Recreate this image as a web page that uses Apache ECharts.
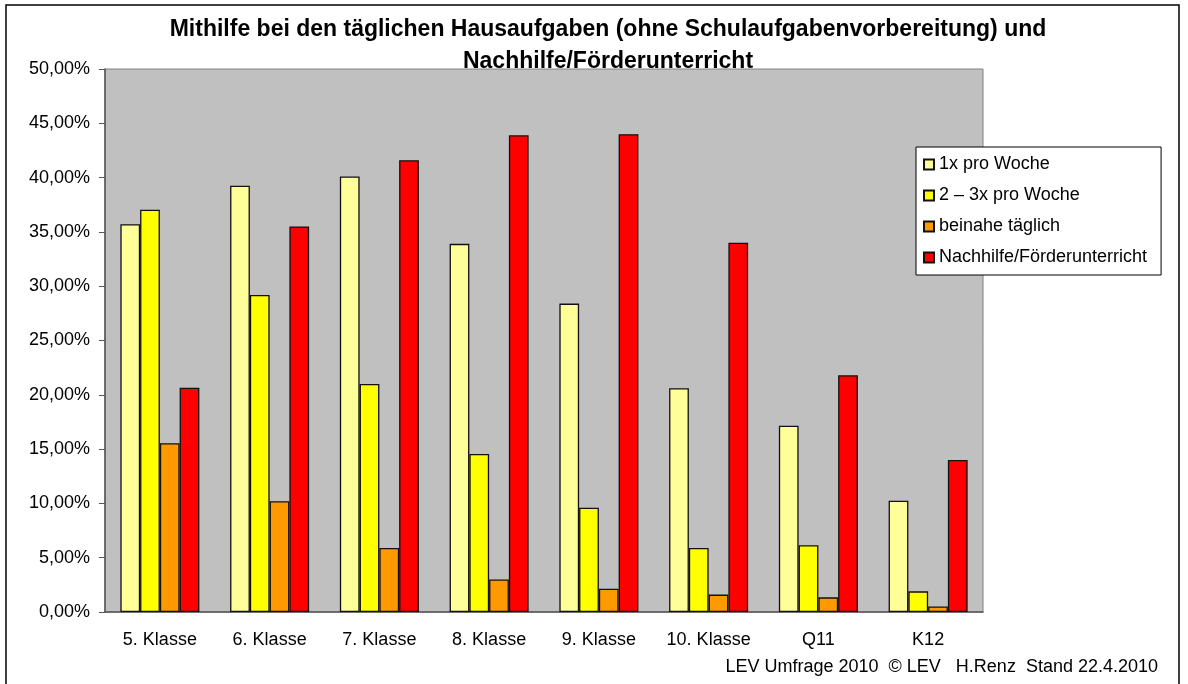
<!DOCTYPE html>
<html>
<head>
<meta charset="utf-8">
<script src="https://cdn.jsdelivr.net/npm/echarts@6/dist/echarts.min.js"></script>
<style>
  html, body { margin: 0; padding: 0; background: #fff; }
  #chart { width: 1188px; height: 684px; }
</style>
</head>
<body>
<div id="chart"></div>
<script>
var categories = ['5. Klasse', '6. Klasse', '7. Klasse', '8. Klasse', '9. Klasse', '10. Klasse', 'Q11', 'K12']
var einmalProWoche = [35.7, 39.25, 40.1, 33.9, 28.4, 20.6, 17.15, 10.25]
var zweiDreimal = [37.05, 29.2, 21.0, 14.55, 9.6, 5.9, 6.15, 1.9]
var beinaheTaeglich = [15.55, 10.2, 5.9, 3.0, 2.15, 1.6, 1.35, 0.5]
var nachhilfe = [20.65, 35.5, 41.6, 43.9, 44.0, 34.0, 21.8, 14.0]
var seriesNames = ['1x pro Woche', '2 \u2013 3x pro Woche', 'beinahe täglich', 'Nachhilfe/Förderunterricht']

var font = 'Liberation Sans, Arial, sans-serif'
var chart = echarts.init(document.getElementById('chart'))

function bar(name, data, color) {
  return {
    name: name,
    type: 'bar',
    data: data,
    barGap: '0%',
    barCategoryGap: '28%',
    itemStyle: { color: color, borderColor: '#111', borderWidth: 1.3 },
    emphasis: { disabled: true }
  }
}

chart.setOption({
  animation: false,
  textStyle: { fontFamily: font },
  title: [
    {
      text: 'Mithilfe bei den täglichen Hausaufgaben (ohne Schulaufgabenvorbereitung) und\nNachhilfe/Förderunterricht',
      left: 603,
      top: 9,
      textAlign: 'center',
      textStyle: { fontFamily: font, fontSize: 23, fontWeight: 'bold', color: '#000', lineHeight: 32 }
    },
    {
      text: 'LEV Umfrage 2010  © LEV   H.Renz  Stand 22.4.2010',
      right: 25,
      bottom: 3,
      textStyle: { fontFamily: font, fontSize: 18, fontWeight: 'normal', color: '#000' }
    }
  ],
  graphic: [
    {
      type: 'rect',
      shape: { x: 6, y: 5, width: 1173, height: 700 },
      style: { fill: 'none', stroke: '#000', lineWidth: 1.5 },
      silent: true,
      z: -1
    }
  ],
  legend: {
    data: seriesNames,
    orient: 'vertical',
    left: 916,
    top: 147,
    padding: [8, 14, 8, 7],
    itemWidth: 10,
    itemHeight: 10,
    itemGap: 12,
    icon: 'rect',
    backgroundColor: '#fff',
    borderColor: '#000',
    borderWidth: 1,
    textStyle: { fontFamily: font, fontSize: 18, color: '#000', lineHeight: 19 },
    selectedMode: false,
    z: 10
  },
  grid: {
    left: 105,
    right: 205,
    top: 69,
    bottom: 72,
    show: true,
    backgroundColor: '#c0c0c0',
    borderColor: '#808080',
    borderWidth: 1
  },
  xAxis: {
    type: 'category',
    data: categories,
    axisLine: { lineStyle: { color: '#555', width: 1.5 } },
    axisTick: { length: 6, lineStyle: { color: '#555' } },
    axisLabel: { fontFamily: font, fontSize: 18, color: '#000', margin: 19 }
  },
  yAxis: {
    type: 'value',
    min: 0,
    max: 50,
    interval: 5,
    splitLine: { show: false },
    axisLine: { show: true, lineStyle: { color: '#555', width: 1.5 } },
    axisTick: { show: true, length: 6, lineStyle: { color: '#555' } },
    axisLabel: {
      fontFamily: font,
      fontSize: 18,
      color: '#000',
      margin: 15,
      formatter: function(value) {
        return value.toFixed(2).replace('.', ',') + '%'
      }
    }
  },
  series: [
    bar(seriesNames[0], einmalProWoche, '#ffff99'),
    bar(seriesNames[1], zweiDreimal, '#ffff00'),
    bar(seriesNames[2], beinaheTaeglich, '#ff9900'),
    bar(seriesNames[3], nachhilfe, '#ff0000')
  ]
})
</script>
</body>
</html>
